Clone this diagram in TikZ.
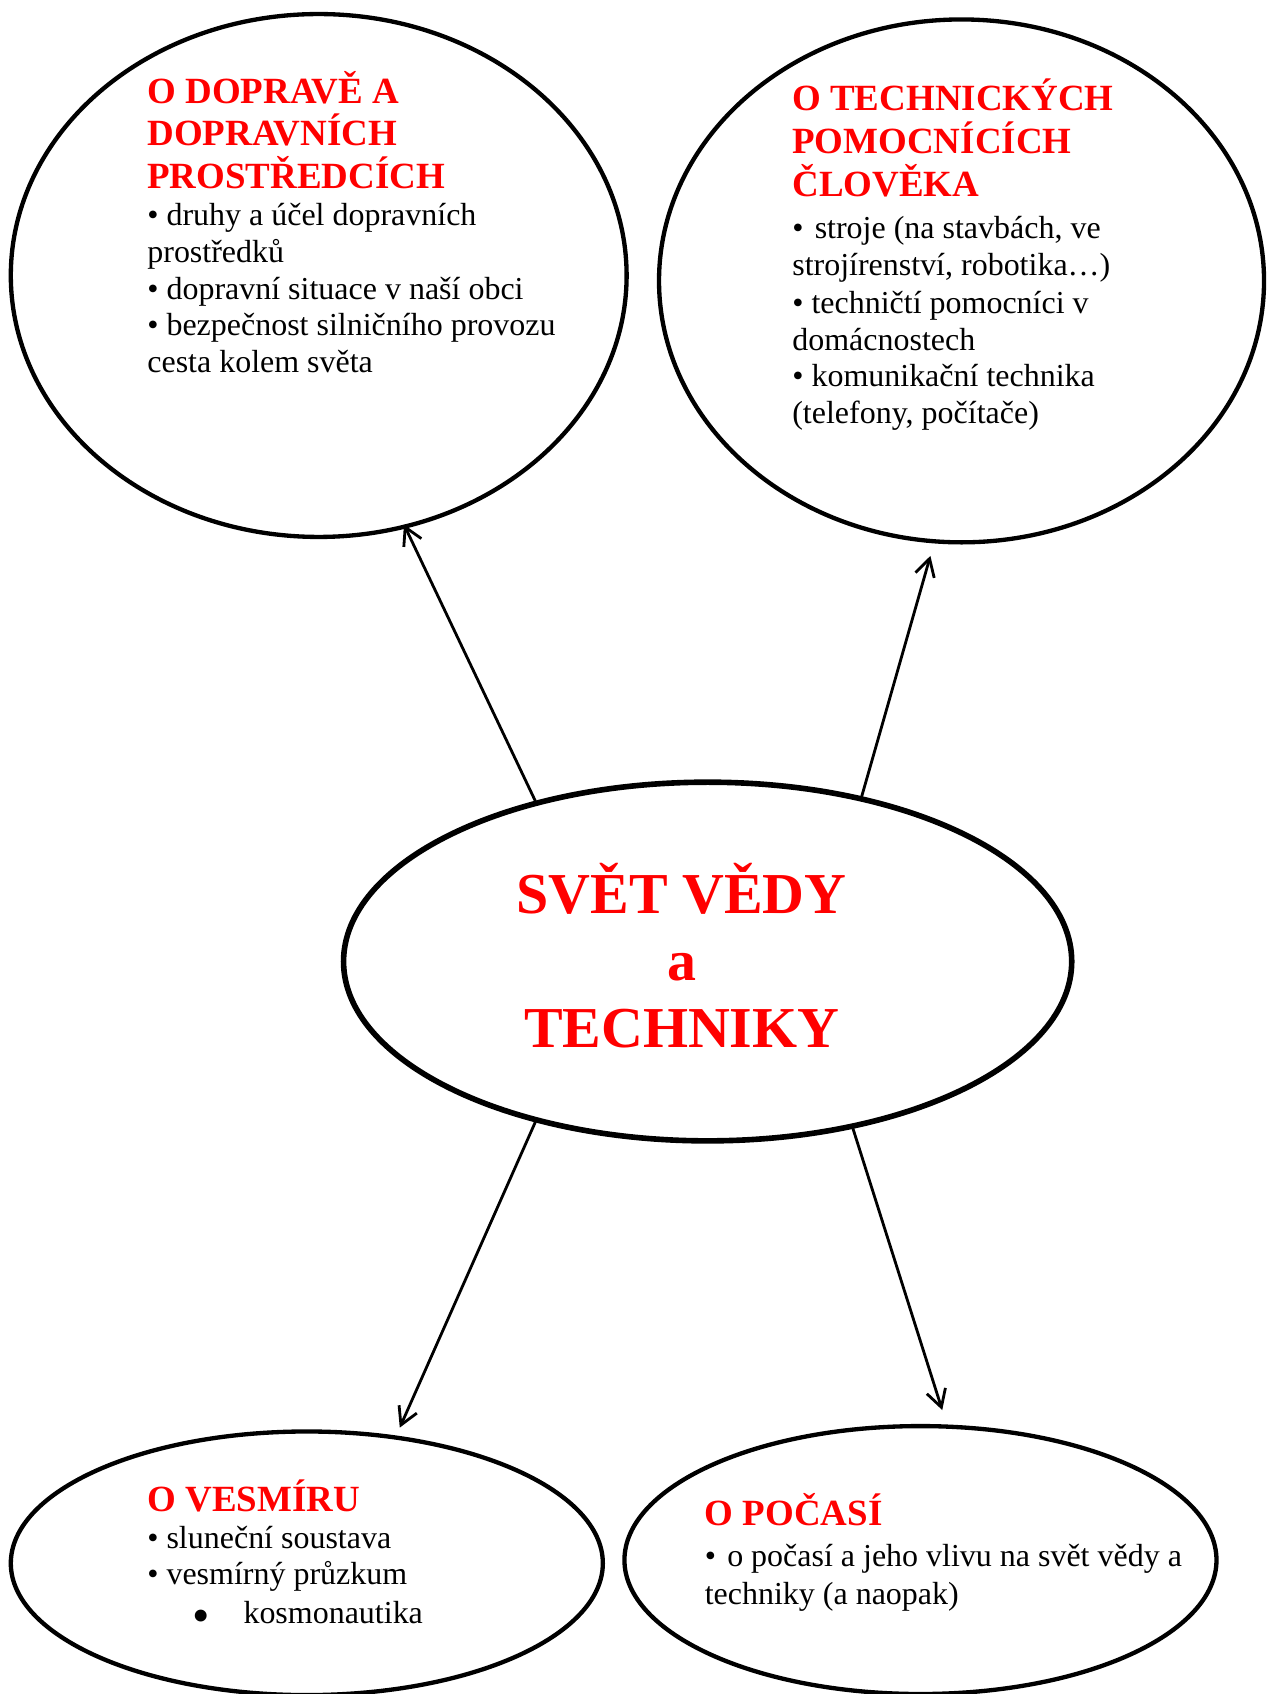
\documentclass[tikz,border=0pt]{standalone}
\usepackage{fontspec}
\setmainfont{Liberation Serif}
\usetikzlibrary{shapes.geometric,arrows.meta}
\definecolor{titlered}{RGB}{255,0,0}
\tikzset{
  bubble/.style={ellipse, draw=black, line width=2pt, inner sep=0pt},
  hub/.style={ellipse, draw=black, line width=2.6pt, inner sep=0pt},
  ttl/.style={anchor=base west, inner sep=0pt, text=titlered, font=\fontsize{17.1}{19.75}\selectfont\bfseries},
  bodytxt/.style={anchor=base west, inner sep=0pt, text=black, font=\fontsize{14.8}{17}\selectfont},
  hubtxt/.style={anchor=base, inner sep=0pt, text=titlered, font=\fontsize{26.8}{31}\selectfont\bfseries},
  link/.style={line width=1.3pt, -{Straight Barb[length=8pt,width=9pt]}, line cap=round}
}
\begin{document}
\begin{tikzpicture}[x=0.5pt,y=-0.5pt]
\useasboundingbox (0,0) rectangle (1172,1568);
% ellipses
\node[bubble, minimum width=285pt, minimum height=242pt] (TL) at (295,255) {};
\node[bubble, minimum width=280pt, minimum height=242pt] (TR) at (890,260) {};
\node[hub, minimum width=337pt, minimum height=166pt] (C) at (655,890) {};
\node[bubble, minimum width=274pt, minimum height=122pt] (BL) at (284,1447) {};
\node[bubble, minimum width=274pt, minimum height=124pt] (BR) at (852,1444) {};
% arrows
\draw[link, shorten >=-2pt] (C.137) -- (TL.289);
\draw[link, shorten >=6pt] (C.47.4) -- (TR.264.6);
\draw[link, shorten >=4pt] (C.223.1) -- (BL.55.5);
\draw[link, shorten >=7pt] (C.311.5) -- (BR.79.3);
% top-left text
\node[ttl] (tl1) at (136,96) {O DOPRAVĚ A};
\node[ttl] (tl2) at (136,135) {DOPRAVNÍCH};
\node[ttl] (tl3) at (136,174.5) {PROSTŘEDCÍCH};
\node[bodytxt] (tl4) at (136,209) {• druhy a účel dopravních};
\node[bodytxt] (tl5) at (136,243) {prostředků};
\node[bodytxt] (tl6) at (136,277) {• dopravní situace v naší obci};
\node[bodytxt] (tl7) at (136,311) {• bezpečnost silničního provozu};
\node[bodytxt] (tl8) at (136,345) {cesta kolem světa};
% top-right text
\node[ttl] (tr1) at (733,102.5) {O TECHNICKÝCH};
\node[ttl] (tr2) at (733,142) {POMOCNÍCÍCH};
\node[ttl] (tr3) at (733,181.5) {ČLOVĚKA};
\node[bodytxt] (tr4) at (733,221) {• \kern1.5pt stroje (na stavbách, ve};
\node[bodytxt] (tr5) at (733,255) {strojírenství, robotika…)};
\node[bodytxt] (tr6) at (733,290) {• techničtí pomocníci v};
\node[bodytxt] (tr7) at (733,324) {domácnostech};
\node[bodytxt] (tr8) at (733,358) {• komunikační technika};
\node[bodytxt] (tr9) at (733,392) {(telefony, počítače)};
% centre text
\node[hubtxt] (c1) at (631,846) {SVĚT VĚDY};
\node[hubtxt] (c2) at (631,908) {a};
\node[hubtxt] (c3) at (631,970) {TECHNIKY};
% bottom-left text
\node[ttl] (bl1) at (136,1399) {O VESMÍRU};
\node[bodytxt] (bl2) at (136,1433) {• sluneční soustava};
\node[bodytxt] (bl3) at (136,1467) {• vesmírný průzkum};
\node[anchor=base west, inner sep=0pt, font=\fontsize{23}{23}\selectfont] (bl4) at (178,1511) {•};
\node[bodytxt] (bl5) at (225,1503) {kosmonautika};
% bottom-right text
\node[ttl] (br1) at (652,1412) {O POČASÍ};
\node[bodytxt] (br2) at (652,1450) {• \kern1.5pt o počasí a jeho vlivu na svět vědy a};
\node[bodytxt] (br3) at (652,1485) {techniky (a naopak)};
\end{tikzpicture}
\end{document}
